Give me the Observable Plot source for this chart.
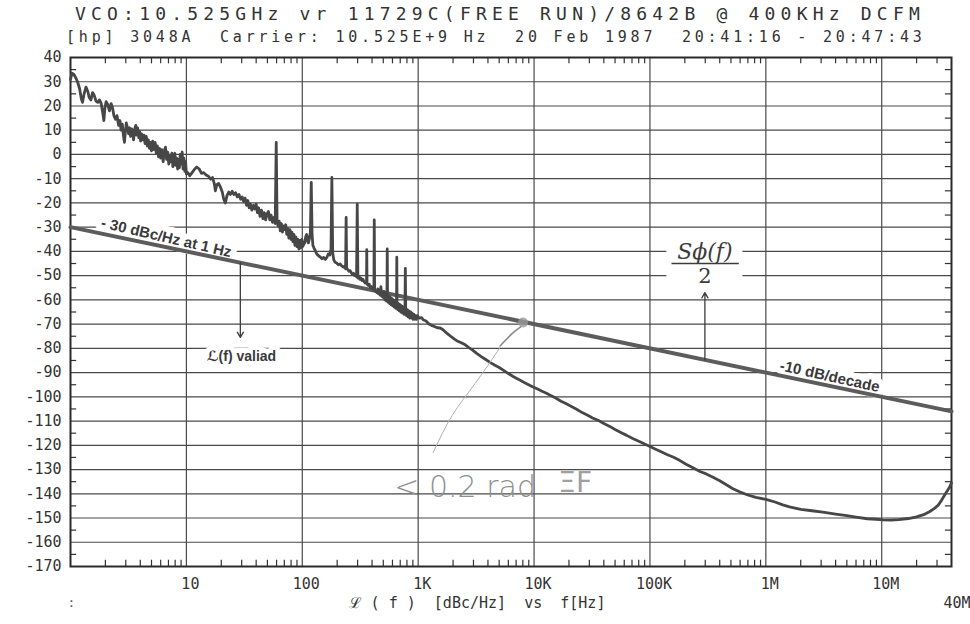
<!DOCTYPE html>
<html>
<head>
<meta charset="utf-8">
<script src="https://cdn.jsdelivr.net/npm/d3@7"></script>
<script src="https://cdn.jsdelivr.net/npm/@observablehq/plot@0.6"></script>
<style>
  html, body { margin: 0; padding: 0; background: #fff; }
  #page { width: 970px; height: 624px; position: relative; overflow: hidden; background: #fff; }
  #head { position: relative; height: 46px; }
  .t1, .t2 { position: absolute; white-space: pre; font-family: "DejaVu Sans Mono", monospace; color: #333; line-height: 1; }
  .t1 { left: 75px; top: 5px; font-size: 18px; letter-spacing: 5.2px; }
  .t2 { left: 66px; top: 30px; font-size: 15px; letter-spacing: 3.8px; }
  g[aria-label="ytick"], g[aria-label="xtick"], g[aria-label="caption"] { letter-spacing: 3px; }
  g[aria-label^="ann"] text { paint-order: stroke; }
  svg { display: block; }
</style>
</head>
<body>
<div id="page">
  <div id="head">
    <div class="t1">VCO:10.525GHz vr 11729C(FREE RUN)/8642B @ 400KHz DCFM</div>
    <div class="t2">[hp] 3048A  Carrier: 10.525E+9 Hz  20 Feb 1987  20:41:16 - 20:47:43</div>
  </div>
  <div id="chart"></div>
</div>
<script>
// ---- data ----
const yTicks = d3.range(-170, 41, 10);
const xTickValues = [10, 100, 1e3, 1e4, 1e5, 1e6, 1e7];
const xTickLabels = ["10", "100", "1K", "10K", "100K", "1M", "10M"];
const decadeGrid = [10, 100, 1e3, 1e4, 1e5, 1e6, 1e7];
const captionText = "ℒ ( f )  [dBc/Hz]  vs  f[Hz]";
const endLabel = "40M";

// straight reference line: -30 dBc/Hz at 1 Hz, -10 dB/decade
const refLine = [[1, -30], [4e7, -106]];

// measured phase-noise trace [frequency Hz, dBc/Hz]
const trace = [
[1.0,31],[1.03,33.5],[1.07,33],[1.1,32],[1.15,30],[1.2,27],[1.24,23],[1.27,21.5],[1.31,25],[1.36,27.8],
[1.41,26],[1.45,23.5],[1.5,22.5],[1.55,25.5],[1.6,24.5],[1.66,22],[1.72,21.5],[1.78,22.5],[1.84,21],[1.9,17],
[1.94,14],[1.98,19],[2.03,21.8],[2.1,20.5],[2.17,18],[2.24,21],[2.3,19.5],[2.37,16],[2.45,14.5],[2.52,16],
[2.6,12],[2.67,14],[2.73,10],[2.8,12.5],[2.86,8],[2.92,5],[2.97,9],[3.03,13],[3.1,11],[3.17,8.5],
[3.24,11],[3.3,7.5],[3.37,10.5],[3.44,9],[3.5,6],[3.58,10.5],[3.66,12],[3.72,8],[3.8,11],[3.88,7],
[3.95,9.5],[4.03,5.5],[4.1,8.5],[4.2,6],[4.3,8],[4.4,4.5],[4.5,7.5],[4.6,3.5],[4.7,6],[4.8,2.5],
[4.9,5],[5.0,1.5],[5.12,5.5],[5.25,2],[5.38,5],[5.5,0.5],[5.62,3.5],[5.75,-1],[5.87,2.5],[6.0,-1.5],
[6.15,2],[6.3,-3],[6.45,1.5],[6.6,3],[6.75,-2],[6.9,1],[7.05,-4],[7.2,-0.5],[7.35,-3],[7.5,0.5],
[7.65,-5],[7.8,-1],[7.95,0.5],[8.1,-4.5],[8.25,-1.5],[8.4,-6],[8.55,-2],[8.7,-5.5],[8.85,0],[9.0,-4],
[9.2,1],[9.35,-6],[9.5,-1.5],[9.7,-7],[9.85,-3],[10.0,-8],[10.3,-7.5],[10.7,-8.8],[11.2,-7.5],[11.8,-6],
[12.3,-5.2],[12.9,-6],[13.5,-7.8],[14.1,-7.5],[14.8,-8.5],[15.5,-9],[16.2,-10.2],[16.8,-9.5],[17.4,-12],[17.8,-15],
[18.3,-12.5],[19,-12],[19.7,-13.5],[20.4,-15.5],[21.0,-18.5],[21.7,-20],[22.4,-17],[23.2,-15.5],[24,-16.5],[24.8,-15.2],
[25.7,-16.5],[26.6,-15.8],[27.5,-17.5],[28.4,-16.5],[29.4,-18.5],[30.3,-17.5],[31.2,-19.5],[32.1,-18],[33,-21],[33.9,-19],
[34.8,-22],[35.7,-20.5],[36.7,-23],[37.8,-21],[38.9,-22.5],[40,-20.5],[41,-24],[42,-22],[43.2,-25.5],[44.5,-23],
[45.8,-26.5],[47,-24],[48.3,-27],[49.6,-24.5],[51,-23.5],[52.4,-27],[53.8,-25],[55.3,-28],[56.8,-26],[58.4,-28.5],
[59.6,5],[60.6,-27],[61.8,-29.5],[63.2,-27.5],[64.6,-31.5],[66,-28.5],[67.5,-32],[69,-29.5],[70.5,-31],[72,-29],
[73.5,-33],[75,-30.5],[76.6,-34.5],[78.2,-31],[79.8,-35],[81.4,-32],[83,-36],[84.7,-33],[86.4,-37.5],[88.1,-34],
[89.9,-38],[91.7,-35],[93.5,-39],[95.4,-35.5],[97.3,-38.5],[99.2,-35],[101,-38],[103,-37],[105,-36.5],[107,-34],
[109,-33],[111,-35.5],[113,-36.5],[115,-35],[117.5,-32],[119.5,-11.5],[121.5,-33],[123.5,-37.5],[126,-38.5],[129,-39.5],
[133,-41],[138,-41.8],[143,-42.3],[148,-43],[153,-42.5],[158,-43.3],[163,-42.5],[168,-41],[173,-41.5],[177,-39],
[180,-9.5],[183,-40.5],[187,-43.5],[192,-44.5],[198,-44.8],[205,-45.5],[212,-45.2],[219,-46],[226,-46.5],[232,-46],
[236.5,-47.2],[239,-26],[241.5,-47],[247,-47.5],[253,-48.2],[259,-48],[265,-48.8],[271,-49.5],[277,-49],[283,-50],
[289,-49.5],[294,-50.5],[298,-20.5],[302,-51],[308,-50.5],[314,-51.5],[320,-51],[327,-52],[334,-51.5],[341,-52.5],
[348,-53],[355,-52.5],[358.5,-53],[360,-39.3],[362,-53.5],[370,-54],[378,-53.5],[386,-55],[394,-54.5],[402,-55.5],
[410,-55],[415,-56],[418,-27],[421,-56],[430,-56.5],[440,-57],[448,-55.5],[455,-57.5],[463,-56],[470,-58],
[477,-54.5],[484,-58.5],[492,-57],[500,-59],[508,-56.5],[516,-60],[524,-57.5],[532,-60.5],[538,-58],[541,-39],
[544,-58.5],[552,-61],[560,-58.5],[568,-61.5],[577,-59],[586,-62],[595,-59.5],[604,-62.5],[613,-60],[622,-63],
[632,-60.5],[642,-63.5],[651,-61],[654,-42.4],[657,-61.5],[667,-64],[677,-61.5],[688,-64.5],[699,-62],[710,-65],
[721,-62.5],[733,-65.5],[745,-63],[757,-66],[769,-63.5],[775,-47],[781,-64],[793,-66.5],[806,-64],[819,-67],
[832,-64.5],[846,-67.5],[860,-65],[874,-67.5],[889,-65.5],[904,-68],[919,-66],[934,-68],[950,-66.5],[966,-68],
[985,-66.5],[1000,-67],[1030,-67.5],[1070,-67.3],[1110,-68.3],[1150,-68.5],[1186,-69],[1240,-70],[1300,-70.5],[1380,-71],
[1460,-71.5],[1550,-71.6],[1640,-72.3],[1720,-73.3],[1820,-74.2],[1940,-75.3],[2070,-76.3],[2200,-77.1],[2350,-77.7],[2500,-78.3],
[2700,-79.5],[2950,-80.7],[3200,-82.1],[3500,-83.4],[3800,-84.5],[4200,-85.9],[4600,-87],[5000,-87.9],[5500,-89.2],[6000,-90.4],
[6600,-91.6],[7300,-92.7],[8000,-93.8],[8800,-94.8],[9600,-95.7],[10500,-96.6],[11600,-97.6],[12800,-98.5],[14100,-99.6],[15500,-100.6],
[17100,-101.8],[19000,-102.9],[21000,-104],[23500,-105.2],[26000,-106.5],[29000,-107.6],[32000,-108.7],[36000,-109.8],[40000,-111],[45000,-112.2],
[50000,-113.5],[56000,-114.7],[63000,-115.9],[71000,-117.2],[81000,-118.4],[91000,-119.6],[100000,-120.5],[112000,-121.6],[125000,-122.7],[140000,-123.8],
[160000,-124.9],[180000,-126.2],[205000,-127.8],[235000,-129.3],[270000,-130.8],[306000,-131.8],[350000,-133.2],[400000,-134.6],[460000,-136.4],[520000,-137.9],
[600000,-139.3],[700000,-140.5],[820000,-141.5],[1000000,-142.3],[1200000,-143.4],[1400000,-144.6],[1600000,-145.4],[2000000,-146.4],[2500000,-147],[3100000,-147.6],
[4000000,-148.4],[5000000,-149],[6000000,-149.6],[7500000,-150.3],[9000000,-150.5],[10200000,-150.8],[12000000,-150.9],[14000000,-150.7],[17000000,-150.2],[20000000,-149.5],
[23000000,-148.6],[26000000,-147.3],[28500000,-146],[30600000,-144.8],[33000000,-142.5],[36000000,-139.5],[38500000,-137.3],[40000000,-135.5]
];

// printed annotations (position in Hz / dB)
const boldNotes = [
  {f: 6.7, db: -34.3, text: "- 30 dBc/Hz at 1 Hz", rotate: 13},
  {f: 3.56e6, db: -91.6, text: "-10 dB/decade", rotate: 12.5}
];
const validNote = [{f: 29.8, db: -83.3, text: "ℒ(f) valiad"}];
const arrows = [
  {f: 29.2, from: -44.7, to: -75.5},
  {f: 2.98e5, from: -84.7, to: -57}
];
const fracNum = [{f: 2.98e5, db: -40.3, text: "Sϕ(f)"}];
const fracDen = [{f: 2.98e5, db: -50.3, text: "2"}];
const fracBar = [{f1: 1.55e5, f2: 5.9e5, db: -45}];
const fracBox = [{f1: 1.4e5, f2: 6.34e5, db1: -37.5, db2: -53}];

// pencil notes
const pencilText = [{f: 2541, db: -137.4, text: "< 0.2 rad"}];
const pencilScribble = [{f: 22600, db: -135.6, text: "ΞF"}];
const pencilCurve = [[1347, -123.0], [1964, -107.7], [3100, -94.5], [5093, -79.6]];
const pencilHook = [[5093, -79.0], [6460, -73.9], [7725, -71]];
const pencilDot = [[8040, -69.3]];

// ---- chart ----
const minorX = [];
for (const dec of [1, 10, 100, 1e3, 1e4, 1e5, 1e6, 1e7]) for (let m = 2; m <= 9; m++) if (dec * m < 4e7) minorX.push(dec * m);
const minorY = d3.range(-165, 40, 10);
const gridY = d3.range(-160, 40, 10);

const ink = "#3c3c3c";
const chart = Plot.plot({
  width: 970,
  height: 578,
  marginTop: 11,
  marginBottom: 58,
  marginLeft: 70,
  marginRight: 19,
  x: {type: "log", domain: [1, 4e7], axis: null},
  y: {domain: [-170, 40], axis: null},
  style: {background: "white", overflow: "visible"},
  marks: [
    Plot.ruleX(decadeGrid, {stroke: "#4a4a4a", strokeWidth: 1.2}),
    Plot.ruleY(gridY, {stroke: "#4a4a4a", strokeWidth: 1.2}),
    Plot.ruleX(minorX, {y1: -170, y2: -167.4, stroke: "#333", strokeWidth: 1.2}),
    Plot.ruleX(minorX, {y1: 40, y2: 37.4, stroke: "#333", strokeWidth: 1.2}),
    Plot.ruleY(minorY, {x1: 1, x2: 1.13, stroke: "#333", strokeWidth: 1.2}),
    Plot.ruleY(minorY, {x1: 4e7 / 1.13, x2: 4e7, stroke: "#333", strokeWidth: 1.2}),
    Plot.frame({stroke: "#2a2a2a", strokeWidth: 2}),

    // white masks behind printed annotations
    Plot.rect(fracBox, {x1: "f1", x2: "f2", y1: "db1", y2: "db2", fill: "white"}),
    Plot.text(boldNotes, {ariaLabel: "ann-bold", x: "f", y: "db", text: "text", rotate: "rotate",
      fontFamily: "Liberation Sans, Arial, sans-serif", fontWeight: "bold", fontSize: 15,
      fill: "#3a3a3a", stroke: "white", strokeWidth: 12, strokeLinejoin: "round"}),
    Plot.text(validNote, {ariaLabel: "ann-valid", x: "f", y: "db", text: "text",
      fontFamily: "Liberation Sans, DejaVu Sans, sans-serif", fontWeight: "bold", fontSize: 14,
      fill: "#3a3a3a", stroke: "white", strokeWidth: 10, strokeLinejoin: "round"}),

    // lines
    Plot.line(refLine, {x: d => d[0], y: d => d[1], stroke: "#5c5c5c", strokeWidth: 4}),
    Plot.line(trace, {x: d => d[0], y: d => d[1], stroke: "#474747", strokeWidth: 2.8, strokeLinejoin: "round"}),

    // arrows
    Plot.arrow(arrows, {x1: "f", x2: "f", y1: "from", y2: "to", stroke: ink, strokeWidth: 1.3, headLength: 7}),

    // fraction S(f)/2
    Plot.text(fracNum, {ariaLabel: "ann-num", x: "f", y: "db", text: "text",
      fontFamily: "DejaVu Serif, Liberation Serif, serif", fontStyle: "italic", fontSize: 22, fill: ink}),
    Plot.ruleY(fracBar, {y: "db", x1: "f1", x2: "f2", stroke: ink, strokeWidth: 1.5}),
    Plot.text(fracDen, {ariaLabel: "ann-den", x: "f", y: "db", text: "text",
      fontFamily: "DejaVu Serif, Liberation Serif, serif", fontSize: 21, fill: ink}),

    // pencil notes
    Plot.line(pencilCurve, {x: d => d[0], y: d => d[1], curve: "natural", stroke: "#b0b0b0", strokeWidth: 1}),
    Plot.line(pencilHook, {x: d => d[0], y: d => d[1], curve: "natural", stroke: "#8a8a8a", strokeWidth: 1.6}),
    Plot.dot(pencilDot, {x: d => d[0], y: d => d[1], r: 5, fill: "#9a9a9a", fillOpacity: 0.8}),
    Plot.text(pencilText, {ariaLabel: "ann-pencil", x: "f", y: "db", text: "text",
      fontFamily: "DejaVu Sans, sans-serif", fontWeight: 300, fontSize: 30, fill: "#8f8f8f"}),
    Plot.text(pencilScribble, {ariaLabel: "ann-scribble", x: "f", y: "db", text: "text",
      fontFamily: "DejaVu Sans, sans-serif", fontSize: 28, fill: "#a0a0a0"}),

    // axis labels (plotter style)
    Plot.text(yTicks, {ariaLabel: "ytick", x: 1, y: d => d, text: d => String(d), dx: -9, textAnchor: "end",
      fontFamily: "DejaVu Sans Mono, monospace", fontSize: 15, fill: "#333"}),
    Plot.text(xTickValues, {ariaLabel: "xtick", x: d => d, y: -170, dy: 18, dx: 4,
      text: (d, i) => xTickLabels[i], fontFamily: "DejaVu Sans Mono, monospace", fontSize: 15, fill: "#333"}),
    Plot.text([captionText], {ariaLabel: "caption", frameAnchor: "bottom", dx: -34, dy: 41, text: d => d,
      fontFamily: "DejaVu Sans Mono, monospace", fontSize: 15, fill: "#333"}),
    Plot.text([endLabel], {ariaLabel: "caption", frameAnchor: "bottom-right", textAnchor: "end", dx: 19, dy: 41, text: d => d,
      fontFamily: "DejaVu Sans Mono, monospace", fontSize: 15, fill: "#333"}),
    Plot.text([":"], {ariaLabel: "caption", frameAnchor: "bottom-left", dx: -3, dy: 40, text: d => d,
      fontFamily: "DejaVu Sans Mono, monospace", fontSize: 13, fill: "#555"})
  ]
});
document.getElementById("chart").appendChild(chart);
</script>
</body>
</html>
